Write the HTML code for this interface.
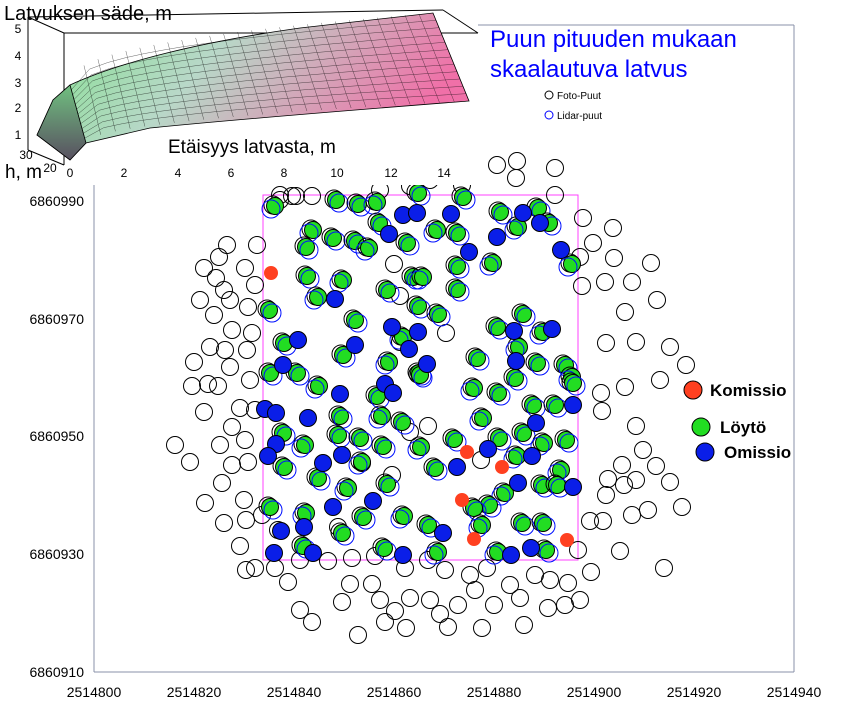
<!DOCTYPE html>
<html><head><meta charset="utf-8"><style>
body{margin:0;background:#fff;}
svg{display:block;font-family:"Liberation Sans",sans-serif;}
</style></head><body>
<svg id="s" width="860" height="721" viewBox="0 0 860 721" xmlns="http://www.w3.org/2000/svg">
<defs>
<linearGradient id="sg" x1="0" y1="0" x2="1" y2="0.3">
<stop offset="0" stop-color="#7fe08a"/><stop offset="0.45" stop-color="#b8d8c8"/><stop offset="1" stop-color="#f070a8"/>
</linearGradient>
<linearGradient id="fg" x1="0" y1="0" x2="0" y2="1">
<stop offset="0" stop-color="#70c080"/><stop offset="1" stop-color="#585060"/>
</linearGradient>
</defs>
<g stroke="#8890a8" stroke-width="1" fill="none">
<line x1="94" y1="165" x2="94" y2="672"/>
<line x1="94" y1="672" x2="794" y2="672"/>
<line x1="794" y1="25" x2="794" y2="672"/>
<line x1="478" y1="25" x2="794" y2="25"/>
</g>
<g font-size="14" fill="#000" text-anchor="middle" id="xt"></g>
<g font-size="14" fill="#000" text-anchor="end" id="yt"></g>
<rect x="263" y="195" width="315" height="365" fill="none" stroke="#ff40ff" stroke-width="1"/>
<g id="pts"></g>
<circle cx="549" cy="95" r="4" fill="none" stroke="#000"/>
<text x="557" y="99" font-size="10">Foto-Puut</text>
<circle cx="549" cy="115" r="4" fill="none" stroke="#00f"/>
<text x="557" y="119" font-size="10">Lidar-puut</text>
<text x="490" y="47" font-size="24" fill="#0000ff">Puun pituuden mukaan</text>
<text x="490" y="77" font-size="24" fill="#0000ff">skaalautuva latvus</text>
<circle cx="693" cy="390" r="9" fill="#ff4020" stroke="#000"/>
<text x="710" y="396" font-size="17" font-weight="bold">Komissio</text>
<circle cx="701" cy="427" r="9" fill="#22dd22" stroke="#000"/>
<text x="720" y="433" font-size="17" font-weight="bold">Löytö</text>
<circle cx="705" cy="452" r="9" fill="#0a1ee8" stroke="#000"/>
<text x="724" y="458" font-size="17" font-weight="bold">Omissio</text>
<rect x="0" y="0" width="478" height="185" fill="#fff"/>
<g stroke="#000" stroke-width="1" fill="none">
<line x1="28" y1="17" x2="443" y2="10"/>
<line x1="28" y1="17" x2="28" y2="150"/>
<line x1="28" y1="17" x2="64" y2="33"/>
<line x1="443" y1="10" x2="478" y2="33"/>
<line x1="64" y1="33" x2="478" y2="33"/>
<line x1="64" y1="33" x2="64" y2="165"/>
<line x1="28" y1="150" x2="64" y2="165"/>
</g>
<path d="M37,135 L53,100 L70,85 C120,62 200,42 300,28 L433,13 L469,101 C380,108 250,118 150,128 L86,143 L70,160 Z" fill="url(#sg)" stroke="#000" stroke-width="0.8"/>
<path d="M37,135 L53,100 L70,85 L86,143 L70,160 Z" fill="url(#fg)" stroke="#000" stroke-width="0.8"/>
<g id="grid" stroke="#000" stroke-width="0.5" opacity="0.6"></g>
<g font-size="12" fill="#000" text-anchor="middle">
<text x="18" y="33">5</text><text x="18" y="60">4</text><text x="18" y="87">3</text><text x="18" y="112">2</text><text x="18" y="139">1</text>
<text x="26" y="159">30</text><text x="50" y="172">20</text>
<text x="70" y="177">0</text><text x="124" y="177">2</text><text x="178" y="177">4</text><text x="231" y="177">6</text><text x="284" y="177">8</text><text x="337" y="177">10</text><text x="391" y="177">12</text><text x="444" y="177">14</text>
</g>
<text x="4" y="20" font-size="20">Latvuksen säde, m</text>
<text x="168" y="153" font-size="19">Etäisyys latvasta, m</text>
<text x="5" y="178" font-size="19">h, m</text>
</svg>
<script>
(function(){
var NS="http://www.w3.org/2000/svg",P=document.getElementById('pts');
function c(g,x,y,r,f,s){var e=document.createElementNS(NS,'circle');e.setAttribute('cx',x);e.setAttribute('cy',y);e.setAttribute('r',r);e.setAttribute('fill',f);e.setAttribute('stroke',s);g.appendChild(e);}
function t(g,x,y,s){var e=document.createElementNS(NS,'text');e.setAttribute('x',x);e.setAttribute('y',y);e.textContent=s;g.appendChild(e);}
var xt=document.getElementById('xt'),yt=document.getElementById('yt');
for(var i=0;i<=7;i++)t(xt,94+i*100,697,String(2514800+i*20));
[[6860990,201],[6860970,319],[6860950,436],[6860930,554],[6860910,672]].forEach(function(a){t(yt,84,a[1]+5,String(a[0]));});
var rings=[[227,245],[257,245],[219,257],[204,268],[216,278],[245,268],[255,285],[224,290],[200,300],[230,300],[248,307],[214,315],[232,330],[252,333],[210,347],[225,350],[247,350],[194,362],[230,367],[208,384],[192,386],[218,386],[250,380],[204,412],[240,408],[255,410],[232,427],[175,445],[220,445],[245,440],[190,462],[232,465],[248,462],[222,483],[244,500],[205,503],[224,523],[246,520],[240,546],[246,570],[262,515],[278,530],
[380,190],[410,186],[430,180],[462,185],[497,165],[517,161],[516,178],[555,168],[555,195],[296,196],[312,196],[280,200],
[583,218],[580,257],[582,286],[593,243],[613,228],[614,258],[651,263],[657,300],[605,282],[632,282],[625,312],[606,343],[636,342],[670,347],[686,365],[660,380],[625,387],[601,393],[602,411],[636,426],[643,450],[622,465],[608,479],[624,485],[636,480],[670,482],[656,466],[606,495],[632,515],[648,510],[682,507],[590,521],[603,521],[578,550],[591,572],[664,568],[620,551],
[328,561],[352,558],[375,556],[405,568],[428,560],[445,570],[470,575],[487,568],[510,585],[535,575],[550,580],[568,583],[300,610],[312,622],[350,584],[372,584],[342,602],[380,600],[410,598],[395,611],[430,600],[458,605],[475,590],[494,605],[520,598],[548,608],[524,625],[565,605],[580,600],[482,628],[448,627],[440,614],[406,628],[358,635],[385,622],[275,568],[255,568],[288,582],[300,560],
[280,195],[292,196],[394,264],[400,296],[400,342],[446,333],[362,463],[392,475],[338,527],[481,460],[410,432],[428,426]];
rings.forEach(function(p){c(P,p[0],p[1],8.5,'none','#000');});
var G=[[275,206],[336,200],[358,204],[377,202],[418,193],[463,197],[313,230],[333,238],[355,241],[369,248],[379,223],[407,243],[437,230],[457,233],[500,212],[518,227],[538,208],[549,223],[572,264],[306,247],[307,276],[343,280],[387,290],[413,277],[423,277],[457,266],[457,289],[318,297],[269,310],[355,320],[403,337],[418,306],[438,314],[493,263],[497,327],[523,314],[543,332],[284,343],[343,355],[389,362],[419,373],[477,358],[519,347],[537,363],[565,365],[572,377],[270,373],[297,373],
[319,386],[377,396],[340,416],[382,416],[402,422],[283,433],[305,445],[338,435],[360,438],[362,462],[284,467],[318,478],[348,488],[387,484],[383,446],[421,447],[435,468],[454,439],[474,388],[498,393],[515,378],[483,418],[499,438],[523,433],[517,456],[533,405],[555,405],[544,443],[566,440],[573,383],[561,470],[542,485],[557,485],[505,493],[489,505],[474,508],[482,525],[522,523],[543,523],[498,552],[546,550],[363,517],[404,516],[428,525],[342,533],[306,513],[303,546],[384,548],[438,552],[420,375],[270,507]];
G.forEach(function(p,i){c(P,p[0]-2,p[1]-1,9,'none','#000');c(P,p[0],p[1],8.5,'#22dd22','#000');c(P,p[0]+(i%3==0?-4:3),p[1]+3,9,'none','#0010ff');});
var B=[[403,215],[417,213],[451,214],[389,234],[497,237],[469,252],[523,213],[540,223],[561,250],[335,299],[298,340],[355,345],[392,327],[418,332],[409,349],[514,331],[516,361],[552,329],[283,365],[427,364],
[385,384],[393,393],[340,394],[265,409],[276,413],[308,418],[276,444],[268,456],[323,463],[342,455],[457,467],[488,449],[532,456],[536,423],[573,405],[518,483],[573,487],[373,501],[333,507],[281,531],[304,527],[443,533],[274,553],[313,553],[403,555],[511,555],[531,548]];
B.forEach(function(p){c(P,p[0],p[1],8.5,'#0a1ee8','#000');});
[[271,273],[467,452],[502,467],[462,500],[474,539],[567,540]].forEach(function(p){c(P,p[0],p[1],6.5,'#ff4020','#ff4020');});
var gr=document.getElementById('grid');
function ln(a,b,c2,d){var e=document.createElementNS(NS,'line');e.setAttribute('x1',a);e.setAttribute('y1',b);e.setAttribute('x2',c2);e.setAttribute('y2',d);gr.appendChild(e);}
function tp(f){return [70+f*363,85-Math.pow(f,0.4)*72];}
function bt(f){return [86+f*383,143-Math.pow(f,0.5)*42];}
for(var k=0;k<=26;k++){var f=k/26,a=tp(f),b=bt(f);ln(a[0],a[1],b[0],b[1]);}
for(var j=1;j<12;j++){var g=j/12;var pts=[];for(var k=0;k<=20;k++){var f=k/20,a=tp(f),b=bt(f);pts.push((a[0]+(b[0]-a[0])*g).toFixed(1)+','+(a[1]+(b[1]-a[1])*g).toFixed(1));}var e=document.createElementNS(NS,'polyline');e.setAttribute('points',pts.join(' '));e.setAttribute('fill','none');gr.appendChild(e);}
})();
</script>
</body></html>
